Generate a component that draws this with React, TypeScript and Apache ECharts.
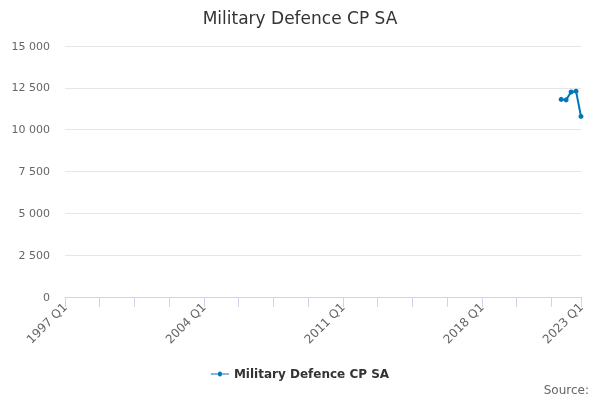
import React, { useEffect, useRef } from "react";
import * as echarts from "echarts";

const startYear = 1997;
const endYear = 2023;
const categories: string[] = [];
for (let y = startYear; y <= endYear; y++) {
  for (let q = 1; q <= 4; q++) {
    if (y === endYear && q > 1) break;
    categories.push(`${y} Q${q}`);
  }
}
const knownPeriods = ["2022 Q1", "2022 Q2", "2022 Q3", "2022 Q4", "2023 Q1"];
const knownValues = [11810, 11780, 12250, 12300, 10790];
const seriesName = "Military Defence CP SA";
const yTicks = [0, 2500, 5000, 7500, 10000, 12500, 15000];

const seriesData: (number | null)[] = categories.map((c) => {
  const i = knownPeriods.indexOf(c);
  return i >= 0 ? knownValues[i] : null;
});

const fmt = (v: number) => String(v).replace(/\B(?=(\d{3})+(?!\d))/g, " ");

export default function App() {
  const ref = useRef<HTMLDivElement>(null);
  useEffect(() => {
    if (!ref.current) return;
    const chart = echarts.init(ref.current, null, { renderer: "svg" });
    const last = categories.length - 1;
    chart.setOption({
      animation: false,
      textStyle: { fontFamily: "DejaVu Sans" },
      title: {
        text: seriesName,
        left: "center",
        top: 4,
        textStyle: { fontSize: 17, fontWeight: "normal", color: "#333333", fontFamily: "DejaVu Sans" },
      },
      legend: {
        bottom: 15,
        left: "center",
        itemWidth: 18,
        itemHeight: 8,
        data: [{ name: seriesName, icon: "path://M0,4L7,4A2,2,0,1,1,11,4L18,4L18,5L11,5A2,2,0,1,1,7,5L0,5Z" }],
        textStyle: { fontSize: 12, fontWeight: "bold", color: "#333333" },
      },
      graphic: [
        {
          type: "text",
          right: 11,
          bottom: 4,
          style: { text: "Source:", fontSize: 12, fill: "#666666", fontFamily: "DejaVu Sans" },
        },
      ],
      grid: { left: 65, right: 19, top: 46, bottom: 103 },
      xAxis: {
        type: "category",
        data: categories,
        boundaryGap: false,
        axisLine: { lineStyle: { color: "#ccd6eb" } },
        axisTick: {
          length: 10,
          lineStyle: { color: "#ccd6eb" },
          interval: (idx: number) => idx % 7 === 0 || idx === last,
        },
        axisLabel: {
          rotate: 45,
          color: "#666666",
          fontSize: 12,
          margin: 8,
          interval: (idx: number) => idx % 28 === 0 || idx === last,
        },
      },
      yAxis: {
        type: "value",
        min: 0,
        max: 15000,
        interval: 2500,
        axisLine: { show: false },
        axisTick: { show: false },
        splitLine: { lineStyle: { color: "#e6e6e6" } },
        axisLabel: {
          color: "#666666",
          fontSize: 11,
          margin: 15,
          formatter: (v: number) => (yTicks.includes(v) ? fmt(v) : ""),
        },
      },
      series: [
        {
          name: seriesName,
          type: "line",
          data: seriesData,
          connectNulls: false,
          symbol: "circle",
          symbolSize: 5,
          showSymbol: true,
          showAllSymbol: true,
          lineStyle: { color: "#0077bb", width: 2 },
          itemStyle: { color: "#0077bb" },
        },
      ],
    });
    return () => chart.dispose();
  }, []);
  return <div ref={ref} style={{ position: "fixed", left: 0, top: 0, width: 600, height: 400 }} />;
}
